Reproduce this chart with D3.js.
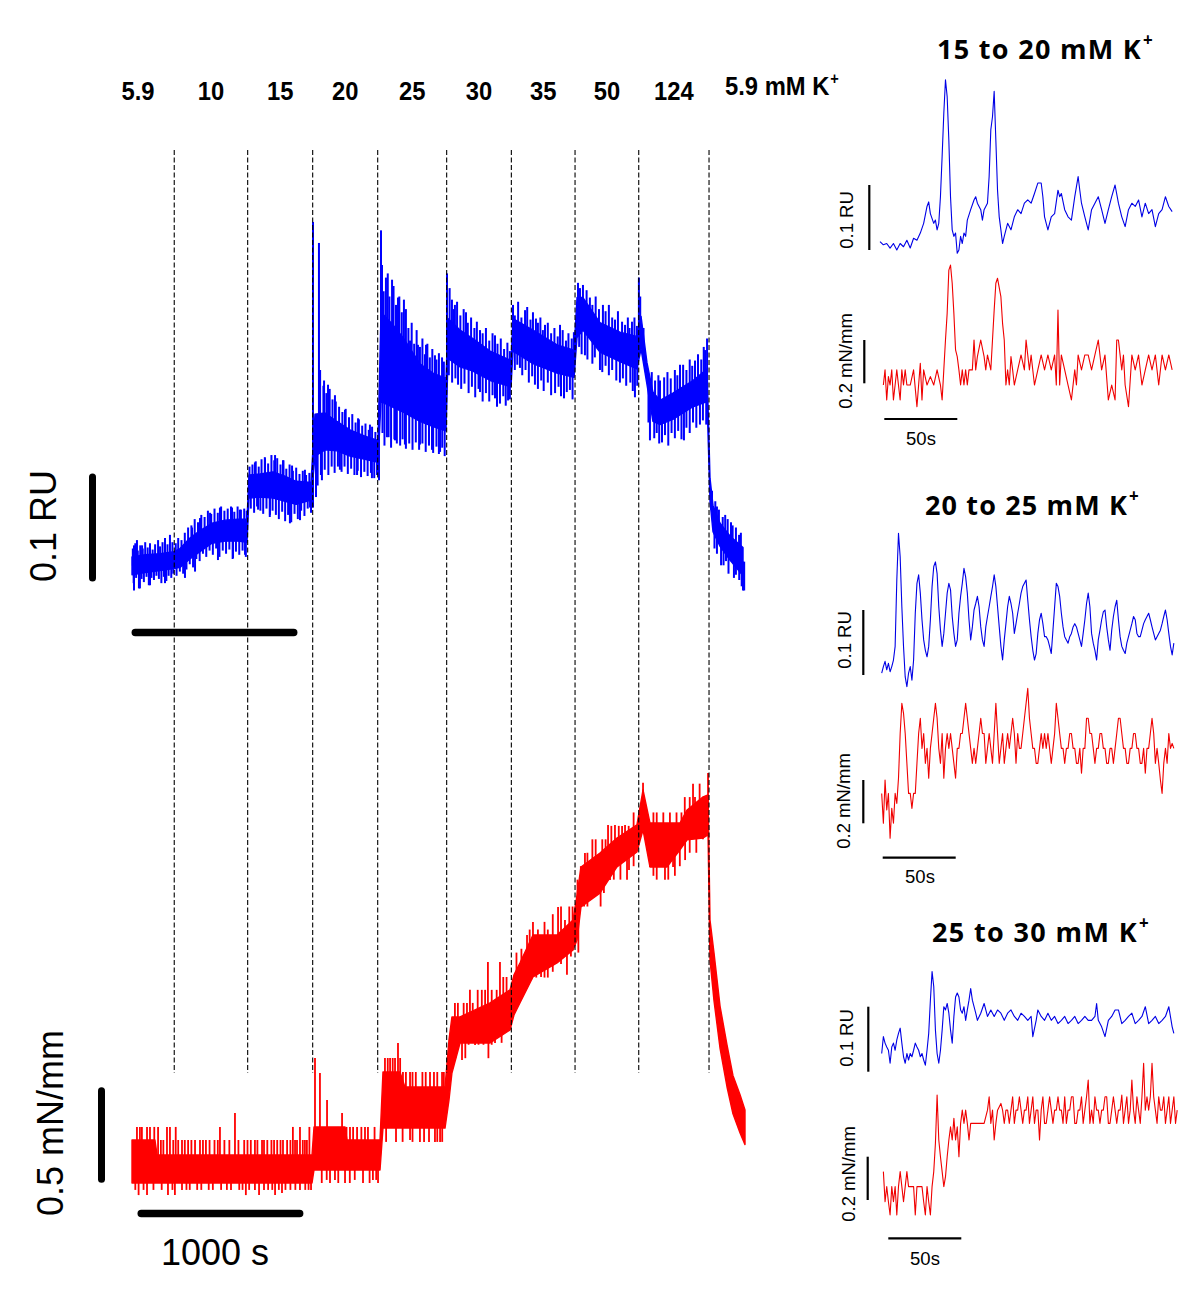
<!DOCTYPE html>
<html><head><meta charset="utf-8">
<script src="https://cdn.jsdelivr.net/npm/d3@7"></script>
<style>html,body{margin:0;padding:0;background:#fff}svg{display:block}</style>
</head><body>
<svg id="chart" width="1200" height="1299"></svg>
<script>
// ---------------- DATA ----------------
const concentrations = ["5.9","10","15","20","25","30","35","50","124","5.9 mM K"];
const changeTimes = [256,701,1095,1489,1907,2299,2685,3071,3497]; // s
const traceEnd = 3715; // s

// Ca2+ signal (mRU): dense core of the noisy trace
const blueT  = [0,79,170,255,291,351,412,485,564,642,697,709,776,855,927,994,1085,1109,1170,1242,1321,1412,1491,1509,1576,1642,1745,1824,1903,1915,1988,2066,2170,2297,2309,2430,2576,2679,2697,2733,2836,2957,3060,3085,3121,3157,3200,3278,3400,3485,3503,3521,3564,3624,3703];
const blueHi = [22,24,25,27,30,40,47,54,57,58,58,100,101,103,99,94,93,158,159,151,143,137,133,255,244,231,206,197,192,249,238,230,218,209,249,238,224,219,269,269,245,236,232,251,207,179,171,178,190,201,97,71,54,42,31];
const blueLo = [5,7,9,11,12,20,27,35,37,37,36,78,79,78,75,72,76,118,124,123,118,115,112,170,165,160,151,146,142,211,203,199,190,184,218,206,197,193,231,238,217,208,201,220,186,151,148,153,165,170,75,46,32,19,4];
// Ca2+ signal excursions [time s, mRU]
const blueSpikes = [
 [12,33],[30,38],[61,33],[109,35],[158,38],[200,40],[230,43],[12,-10],[48,-8],[109,-5],[200,-3],
 [5,30],[20,35],[35,28],[50,33],[65,30],[80,36],[95,31],[125,29],[140,34],[170,32],[185,36],[215,34],[245,36],
 [10,-3],[25,2],[42,-8],[58,1],[72,-2],[88,3],[102,-5],[118,2],[133,0],[148,4],[163,1],[178,-3],[193,3],[208,-1],[222,4],[238,2],[250,6],
 [364,50],[412,59],[473,64],[533,69],[606,69],[654,67],[321,2],[382,8],[521,19],[612,21],[685,24],
 [265,35],[280,40],[300,38],[320,45],[340,50],[360,52],[380,58],[400,55],[420,62],[440,60],[460,66],[480,63],[500,68],[520,64],[540,70],[560,66],[580,68],[600,70],[620,65],[640,70],[660,67],[680,68],[695,66],
 [270,4],[290,8],[310,6],[330,10],[350,15],[370,12],[390,20],[410,18],[430,25],[450,22],[470,28],[490,24],[510,30],[530,22],[550,28],[570,25],[590,29],[610,20],[630,27],[650,24],[670,28],[690,22],
 [745,112],[806,116],[867,119],[915,114],[970,109],[1048,105],[764,67],[836,62],[957,54],[1018,57],[1079,69],
 [712,108],[730,110],[750,113],[768,108],[785,115],[805,117],[825,111],[845,119],[862,114],[880,116],[900,110],[918,114],[935,106],[955,110],[975,104],[995,107],[1015,101],[1035,104],[1055,100],[1075,102],
 [720,68],[740,64],[758,70],[778,66],[795,63],[815,68],[835,60],[852,66],[872,62],[890,58],[910,65],[928,56],[946,62],[965,55],[985,63],[1005,58],[1025,66],[1045,61],[1065,68],[1085,64],
 [1097,341],[1133,321],[1164,190],[1188,186],[1230,176],[1291,162],[1370,154],[1442,148],[1097,69],[1115,79],[1151,95],[1260,105],[1364,100],[1454,97],[1497,95],
 [1140,200],[1160,185],[1178,178],[1198,182],[1215,172],[1235,170],[1255,165],[1275,160],[1295,163],[1315,155],[1335,158],[1355,150],[1375,153],[1395,147],[1415,149],[1435,143],[1455,146],[1475,141],
 [1125,90],[1145,100],[1168,105],[1190,100],[1210,108],[1228,102],[1248,108],[1270,103],[1288,108],[1308,101],[1328,106],[1348,100],[1368,104],[1388,98],[1408,103],[1428,99],[1448,102],[1468,97],[1485,100],
 [1509,333],[1539,288],[1576,286],[1612,269],[1648,267],[1685,228],[1733,224],[1782,224],[1836,214],[1879,212],[1545,136],[1594,133],[1654,129],[1745,129],[1818,124],[1867,122],
 [1515,300],[1525,275],[1550,292],[1560,270],[1585,280],[1600,262],[1620,270],[1635,255],[1660,258],[1675,240],[1695,245],[1710,225],[1725,238],[1745,222],[1760,230],[1775,215],[1790,225],[1805,212],[1820,220],[1845,210],[1860,216],[1890,208],
 [1518,140],[1530,128],[1555,136],[1570,126],[1590,134],[1605,130],[1625,128],[1640,134],[1660,125],[1680,130],[1700,124],[1720,131],[1740,124],[1760,130],[1780,122],[1800,128],[1825,121],[1845,127],[1860,120],[1880,126],[1895,118],
 [1909,292],[1939,267],[1957,262],[2024,255],[2109,238],[2200,233],[1976,186],[2109,179],[2200,173],[2212,165],[2279,171],
 [1925,278],[1948,258],[1970,265],[1990,252],[2010,258],[2035,245],[2055,250],[2075,240],[2090,246],[2125,235],[2145,240],[2165,228],[2185,235],[2215,225],[2235,230],[2255,220],[2275,226],[2290,218],
 [1920,195],[1940,188],[1960,192],[1995,182],[2015,187],[2040,178],[2060,184],[2080,174],[2100,182],[2125,170],[2145,178],[2165,170],[2185,176],[2230,168],[2250,175],[2265,166],[2290,172],
 [2309,262],[2382,257],[2448,249],[2503,243],[2594,243],[2351,202],[2442,186],[2564,178],[2618,173],[2654,181],
 [2320,252],[2340,265],[2360,250],[2395,260],[2415,248],[2430,255],[2460,245],[2475,250],[2490,238],[2520,245],[2540,235],[2560,240],[2580,232],[2610,238],[2630,228],[2645,235],[2665,230],[2678,236],
 [2320,200],[2335,205],[2365,195],[2385,200],[2405,188],[2425,194],[2460,182],[2480,190],[2495,180],[2520,188],[2540,176],[2585,184],[2600,175],[2635,179],[2670,172],
 [2703,283],[2733,281],[2775,269],[2854,262],[2927,248],[2988,243],[3030,246],[2745,214],[2836,200],[2957,188],[3048,174],
 [2715,278],[2755,276],[2790,262],[2810,270],[2830,258],[2870,256],[2890,262],[2910,250],[2945,256],[2970,246],[3005,250],[3015,240],[3045,250],[3060,242],
 [2710,222],[2725,215],[2760,210],[2790,206],[2805,212],[2850,198],[2870,204],[2890,195],[2910,200],[2935,190],[2975,192],[2995,185],[3020,188],[3035,180],[3062,185],
 [3072,288],[3200,190],[3321,205],[3412,209],[3473,219],[3139,133],[3212,131],[3345,133],[3442,148],
 [3080,270],[3100,240],[3150,198],[3170,190],[3190,195],[3225,193],[3245,198],[3265,192],[3290,200],[3305,195],[3340,205],[3360,200],[3380,210],[3395,204],[3430,215],[3450,210],[3465,222],[3485,230],
 [3130,150],[3165,135],[3180,140],[3195,130],[3230,138],[3250,128],[3270,140],[3290,135],[3310,142],[3330,134],[3360,145],[3380,140],[3400,150],[3420,145],[3460,152],[3480,148],
 [3509,67],[3557,67],[3630,55],[3679,43],[3570,14],[3648,2],[3703,-10],
 [3515,85],[3535,75],[3545,70],[3580,60],[3595,62],[3610,58],[3640,52],[3660,50],[3690,45],
 [3530,30],[3545,25],[3585,14],[3600,18],[3615,6],[3660,5],[3680,0],[3695,-6],[3710,-10]
];

// Tension (mN/mm): dense core of the noisy trace
const redT  = [0,139,152,1091,1103,1291,1303,1503,1521,1624,1654,1897,1921,1939,1988,2170,2291,2315,2351,2430,2576,2673,2697,2721,2836,2939,3060,3097,3139,3242,3321,3364,3461,3491,3503,3527,3564,3606,3642,3685,3715];
const redHi = [.224,.224,.146,.146,.292,.292,.224,.224,.578,.578,.5,.5,.745,.865,.865,.938,1.006,1.084,1.146,1.292,1.292,1.37,1.5,1.646,1.719,1.797,1.865,2.048,1.875,1.875,1.875,1.943,2.011,2.021,1.37,1.2,.92,.72,.56,.46,.38];
const redLo = [0,0,0,0,.068,.068,.068,.068,.286,.286,.286,.286,.432,.573,.729,.729,.797,.875,.938,1.073,1.146,1.214,1.266,1.438,1.51,1.646,1.724,1.839,1.646,1.646,1.735,1.787,1.797,1.813,1.161,.95,.70,.5,.36,.26,.2];
const redSpikes = [
 [30,.292],[48,.292],[91,.292],[109,.292],[158,.292],[212,.292],[230,.292],[303,.224],[382,.224],[412,.224],[448,.224],[533,.292],[624,.365],[745,.224],[788,.224],[861,.224],[915,.224],[988,.224],[1018,.292],[1048,.224],
 [15,.224],[60,.292],[75,.224],[120,.224],[135,.292],[175,.224],[190,.224],[250,.224],[265,.292],[280,.224],[320,.224],[340,.224],[360,.224],[430,.224],[470,.224],[500,.224],[520,.224],[560,.224],[590,.224],[645,.224],[680,.224],[700,.224],[720,.224],[760,.224],[800,.224],[820,.224],[845,.224],[880,.224],[900,.224],[940,.224],[960,.224],[975,.292],[1000,.224],[1035,.224],[1060,.224],[1075,.292],
 [91,-.063],[218,-.063],[303,-.036],[745,-.036],[867,-.063],[909,-.052],[1018,-.036],
 [20,-.036],[40,-.063],[70,-.036],[130,-.036],[180,-.036],[245,-.036],[260,-.063],[330,-.036],[350,-.036],[395,-.036],[420,-.036],[465,-.036],[490,-.036],[540,-.036],[575,-.036],[600,-.036],[650,-.036],[670,-.036],[690,-.063],[710,-.036],[770,-.063],[800,-.036],[825,-.036],[850,-.036],[890,-.036],[930,-.036],[960,-.036],[990,-.036],[1050,-.036],[1070,-.036],[1085,-.036],
 [1109,.651],[1139,.573],[1182,.432],[1273,.365],[1321,.292],[1364,.292],[1412,.292],[1200,0],[1230,.016],[1291,0],[1460,.016],[1491,0],
 [1250,.292],[1300,.292],[1340,.292],[1390,.292],[1430,.292],[1470,.292],[1150,0],[1180,.016],[1250,0],[1320,0],[1350,.016],[1400,0],[1440,0],[1480,.016],
 [1533,.651],[1564,.651],[1594,.651],[1612,.729],[1642,.578],[1685,.578],[1806,.578],[1879,.578],[1685,.224],[1745,.214],[1836,.214],[1867,.214],
 [1550,.651],[1580,.651],[1625,.651],[1660,.578],[1700,.578],[1720,.578],[1760,.578],[1780,.578],[1830,.578],[1850,.578],[1890,.578],[1540,.214],[1600,.214],[1640,.214],[1700,.214],[1770,.214],[1800,.214],[1850,.214],[1880,.214],
 [1957,.938],[2048,1.006],[2157,1.151],[2230,1.151],[2000,.641],[2079,.719],[2200,.729],
 [1975,.938],[2010,.938],[2030,.938],[2065,.938],[2095,1.006],[2120,1.006],[2140,1.006],[2180,1.006],[2210,1.006],[2250,1.073],[2270,1.073],[1960,.65],[2020,.65],[2040,.72],[2100,.72],[2130,.72],[2160,.65],[2180,.72],[2240,.73],[2260,.79],
 [2394,1.292],[2582,1.438],[2624,1.37],[2479,1.073],[2636,1.084],
 [2330,1.2],[2360,1.22],[2410,1.32],[2430,1.36],[2460,1.32],[2500,1.36],[2520,1.32],[2550,1.4],[2600,1.44],[2650,1.44],[2670,1.44],[2340,.93],[2370,1.0],[2420,1.06],[2450,1.07],[2500,1.07],[2520,1.07],[2550,1.1],[2600,1.14],[2660,1.18],
 [2745,1.719],[2885,1.865],[2927,1.865],[2988,1.865],[2818,1.51],[2897,1.578],[3012,1.63],
 [2700,1.58],[2720,1.65],[2760,1.72],[2790,1.79],[2810,1.79],[2850,1.79],[2870,1.79],[2905,1.86],[2950,1.86],[2970,1.86],[3010,1.86],[3040,1.93],[2705,1.2],[2740,1.44],[2760,1.44],[2800,1.51],[2840,1.44],[2860,1.51],[2920,1.58],[2960,1.58],[3000,1.58],[3040,1.65],
 [3097,2.084],[3412,2.011],[3491,2.136],[3139,1.646],[3200,1.646],[3279,1.646],[3352,1.682],
 [3160,1.93],[3180,1.93],[3220,1.93],[3260,1.93],[3300,1.93],[3330,1.93],[3350,2.01],[3380,2.01],[3400,2.08],[3440,2.08],[3470,2.01],[3160,1.6],[3180,1.58],[3230,1.58],[3250,1.58],[3290,1.6],[3320,1.65],[3380,1.72],[3420,1.72],[3460,1.79]
];

// Insets: sample period (s); traces as [sample index, value] (blue: mRU, red: mN/mm)
const samplePeriod = 1.15;
const insetTitles = ["15 to 20 mM K","20 to 25 mM K","25 to 30 mM K"];
const ins1Blue = [[0,13],[2,8],[4,10],[6,3],[8,10],[10,0],[12,10],[14,5],[16,15],[18,3],[20,18],[22,15],[24,26],[26,41],[28,67],[29,74],[30,56],[32,41],[33,46],[34,31],[35,41],[36,82],[37,144],[38,210],[39,262],[40,236],[41,169],[42,82],[43,31],[44,21],[45,26],[46,-5],[47,0],[48,21],[49,10],[50,26],[51,21],[52,46],[54,62],[56,77],[57,82],[58,72],[60,62],[61,46],[62,62],[64,72],[65,113],[66,185],[67,205],[68,244],[69,169],[70,92],[71,51],[72,31],[73,10],[74,21],[76,41],[78,31],[80,51],[82,62],[84,56],[86,72],[88,77],[90,72],[92,87],[94,103],[96,103],[97,82],[98,51],[100,31],[102,51],[104,56],[106,92],[107,82],[108,87],[110,62],[112,51],[114,46],[116,82],[118,113],[119,92],[120,72],[122,51],[124,31],[126,62],[128,72],[130,82],[132,62],[134,41],[136,62],[138,82],[140,100],[142,72],[144,51],[146,36],[148,62],[150,72],[152,67],[154,77],[156,51],[158,72],[160,56],[162,62],[164,36],[166,56],[168,62],[170,82],[172,67],[174,59]];
const ins1Red = [[2,-.008],[3,.062],[4,-.077],[5,.031],[6,-.008],[7,.062],[8,-.077],[9,-.008],[10,.062],[11,-.008],[12,-.077],[13,.062],[14,-.008],[15,.062],[16,-.008],[18,-.008],[20,.062],[22,-.108],[23,-.008],[24,.092],[25,-.077],[26,.062],[28,-.008],[30,.031],[32,-.008],[34,.062],[36,-.008],[37,-.077],[38,.062],[39,.2],[40,.323],[41,.523],[42,.546],[43,.462],[44,.323],[45,.154],[46,.123],[47,.062],[48,-.008],[49,.062],[50,-.008],[51,.062],[52,-.008],[53,.062],[55,.062],[56,.2],[57,.062],[58,.123],[60,.2],[62,.123],[63,.062],[64,.131],[66,.062],[67,.2],[68,.338],[69,.462],[70,.485],[72,.4],[73,.277],[74,.2],[75,-.008],[76,.062],[77,-.008],[78,.123],[79,.062],[80,-.008],[82,.062],[84,.131],[86,.062],[87,.2],[88,.131],[89,.062],[90,.131],[92,-.008],[94,.062],[96,.131],[98,.062],[100,.131],[102,.062],[104,.131],[105,-.008],[106,.338],[107,-.008],[108,.131],[110,.062],[112,-.008],[114,-.077],[116,.062],[117,-.008],[118,.131],[120,.062],[122,.131],[124,.131],[126,.062],[128,.131],[130,.2],[132,.062],[134,.131],[136,-.077],[138,-.008],[140,-.077],[141,.2],[142,.2],[144,.062],[145,.131],[146,-.008],[148,-.108],[150,.131],[152,.062],[154,.131],[156,-.008],[158,.062],[160,.131],[162,.062],[164,.131],[166,-.008],[168,.131],[170,.062],[172,.131],[174,.062]];
const ins2Blue = [3,13,21,8,18,5,13,23,44,146,218,182,105,44,-3,-18,3,13,-8,23,95,141,154,126,85,54,38,28,44,85,136,167,174,156,105,69,44,64,95,126,141,131,90,64,44,54,95,121,141,164,151,126,85,54,74,100,110,121,105,74,54,44,74,90,105,121,136,154,136,105,74,44,23,54,79,105,121,110,95,64,79,95,110,126,136,141,146,115,85,59,38,23,33,64,85,95,79,59,59,54,44,33,69,105,141,136,121,95,74,59,54,49,59,64,74,79,74,64,54,44,64,85,110,126,105,64,49,38,23,54,69,85,97,100,74,54,38,69,90,105,115,85,59,44,38,33,49,59,69,79,90,85,64,59,59,69,79,85,90,95,85,74,64,54,59,64,69,79,90,100,85,64,44,31,49];
const ins2Red = [.138,0,.2,.062,.138,-.069,.069,0,.138,.092,.208,.415,.554,.508,.415,.277,.138,.138,.069,.138,.138,.277,.415,.485,.346,.415,.277,.346,.208,.346,.415,.485,.554,.485,.346,.277,.415,.208,.346,.415,.346,.415,.346,.277,.208,.346,.346,.415,.415,.485,.554,.485,.415,.346,.277,.346,.277,.346,.415,.485,.415,.415,.277,.346,.415,.346,.277,.415,.554,.415,.277,.346,.415,.277,.346,.415,.346,.415,.485,.415,.277,.415,.346,.346,.415,.485,.554,.623,.485,.415,.346,.346,.277,.277,.346,.415,.346,.415,.346,.415,.346,.277,.346,.415,.554,.485,.415,.346,.346,.277,.346,.346,.415,.415,.346,.346,.277,.277,.346,.231,.346,.346,.485,.485,.415,.415,.346,.277,.346,.346,.415,.415,.346,.346,.277,.277,.346,.346,.277,.346,.415,.485,.485,.415,.346,.346,.277,.277,.346,.346,.415,.415,.346,.346,.277,.277,.346,.231,.346,.346,.415,.485,.415,.277,.346,.277,.2,.138,.277,.346,.277,.415,.346,.369,.346];
const ins3Blue = [[0,28],[1,54],[2,44],[3,38],[4,33],[5,13],[6,38],[7,44],[8,33],[9,49],[10,59],[11,67],[12,44],[13,23],[14,13],[15,28],[16,18],[17,28],[18,23],[19,33],[20,44],[21,38],[22,33],[23,23],[24,28],[25,18],[26,10],[27,33],[28,59],[29,110],[30,154],[31,131],[32,64],[33,28],[34,13],[35,33],[36,64],[37,100],[38,95],[39,105],[40,90],[41,64],[42,44],[43,85],[44,115],[45,121],[46,115],[47,95],[48,90],[49,100],[50,79],[51,95],[52,110],[53,128],[54,110],[55,100],[56,90],[57,79],[59,90],[61,105],[63,85],[65,95],[67,85],[69,95],[71,90],[73,79],[75,90],[77,95],[79,85],[81,79],[83,90],[85,85],[87,79],[89,85],[90,54],[92,79],[93,95],[95,85],[97,79],[99,90],[101,79],[103,85],[105,74],[107,79],[109,85],[111,74],[113,79],[115,85],[117,74],[119,79],[121,85],[123,79],[125,79],[127,85],[128,105],[129,79],[131,69],[133,54],[135,79],[137,85],[139,95],[141,95],[143,74],[145,79],[147,85],[149,90],[151,74],[153,79],[155,85],[157,100],[159,74],[161,79],[163,85],[165,74],[167,79],[169,85],[171,100],[173,69],[174,59]];
const ins3Red = [[1,.131],[2,-.008],[3,.062],[4,-.008],[5,-.069],[6,.062],[7,-.008],[8,.062],[9,-.069],[10,.062],[11,.131],[12,.062],[13,-.008],[14,.062],[15,.131],[16,.062],[17,.062],[18,.062],[19,.062],[20,-.069],[21,.062],[22,.062],[23,.062],[24,.062],[25,-.008],[26,-.069],[27,.062],[28,-.008],[29,-.069],[30,.062],[31,.131],[32,.262],[33,.485],[34,.277],[35,.2],[36,.131],[37,.062],[38,.108],[39,.2],[40,.277],[41,.338],[42,.277],[43,.377],[44,.277],[45,.338],[46,.2],[47,.354],[48,.415],[49,.354],[50,.415],[51,.354],[52,.277],[53,.354],[55,.354],[57,.354],[59,.354],[61,.354],[63,.415],[64,.477],[65,.354],[66,.415],[67,.277],[68,.354],[69,.415],[71,.446],[72,.415],[73,.354],[74,.415],[75,.415],[76,.354],[77,.415],[78,.477],[79,.354],[80,.415],[81,.415],[82,.477],[83,.415],[84,.354],[85,.415],[86,.415],[87,.477],[88,.354],[89,.415],[90,.477],[91,.354],[92,.415],[93,.415],[94,.277],[95,.415],[96,.477],[97,.354],[98,.354],[99,.415],[100,.477],[101,.415],[102,.354],[103,.415],[104,.415],[105,.477],[106,.415],[107,.415],[108,.354],[109,.477],[110,.354],[111,.415],[112,.415],[113,.477],[114,.477],[115,.354],[116,.354],[117,.415],[118,.415],[119,.477],[120,.354],[121,.415],[122,.477],[123,.554],[124,.354],[125,.415],[126,.354],[127,.477],[128,.415],[129,.415],[130,.354],[131,.415],[132,.415],[133,.477],[134,.477],[135,.354],[136,.354],[137,.415],[138,.477],[139,.415],[140,.354],[141,.415],[142,.415],[143,.485],[144,.354],[145,.415],[146,.477],[147,.354],[148,.415],[149,.554],[150,.415],[151,.354],[152,.477],[153,.415],[154,.354],[155,.477],[156,.631],[157,.415],[158,.477],[159,.415],[160,.477],[161,.631],[162,.477],[163,.415],[164,.354],[165,.477],[166,.415],[167,.415],[168,.477],[169,.354],[170,.415],[171,.477],[172,.354],[173,.415],[174,.477],[175,.354],[176,.415]];

// ---------------- DRAWING ----------------
const svg = d3.select("#chart");
const BLUE = "#0000ff", RED = "#ff0000";
const ARIAL = "'Liberation Sans', Arial, Helvetica, sans-serif";
const TITLEF = "'Open Sans', 'Noto Sans', sans-serif";

const x  = d3.scaleLinear().domain([0, traceEnd]).range([132, 745]);
const yB = d3.scaleLinear().domain([0, 100]).range([580, 475]);   // mRU
const yR = d3.scaleLinear().domain([0, 0.5]).range([1183, 1087]); // mN/mm

const main = svg.append("g");

function drawBand(g, T, Hi, Lo, sx, sy, color) {
  const pts = T.map((t, i) => ({t, hi: Hi[i], lo: Lo[i]}));
  g.append("path").datum(pts)
    .attr("d", d3.area().x(d => sx(d.t)).y0(d => sy(d.lo)).y1(d => sy(d.hi)))
    .attr("fill", color).attr("stroke", color).attr("stroke-width", 1.4).attr("stroke-linejoin", "round");
}
function drawSpikes(g, spk, T, Hi, Lo, sx, sy, color, w) {
  const mid = t => {
    const i = Math.max(1, Math.min(T.length - 1, d3.bisectRight(T, t)));
    const f = Math.max(0, Math.min(1, (t - T[i-1]) / (T[i] - T[i-1])));
    return ((Hi[i-1] + Lo[i-1]) * (1 - f) + (Hi[i] + Lo[i]) * f) / 2;
  };
  g.selectAll(null).data(spk).join("line")
    .attr("x1", d => sx(d[0])).attr("x2", d => sx(d[0]))
    .attr("y1", d => sy(mid(d[0]))).attr("y2", d => sy(d[1]))
    .attr("stroke", color).attr("stroke-width", w);
}

drawBand(main, blueT, blueHi, blueLo, x, yB, BLUE);
drawSpikes(main, blueSpikes, blueT, blueHi, blueLo, x, yB, BLUE, 2);
drawBand(main, redT, redHi, redLo, x, yR, RED);
drawSpikes(main, redSpikes, redT, redHi, redLo, x, yR, RED, 1.8);

// dashed solution-change lines
main.selectAll(null).data(changeTimes).join("line")
  .attr("x1", d => x(d)).attr("x2", d => x(d)).attr("y1", 150).attr("y2", 1073)
  .attr("stroke", "#000").attr("stroke-width", 1.1).attr("stroke-dasharray", "5,2.5");

// concentration labels
concentrations.forEach((c, i) => {
  if (i < concentrations.length - 1) {
    const cx = i === 0 ? x(0) + 6 : (x(changeTimes[i-1]) + x(changeTimes[i])) / 2;
    svg.append("text").attr("transform", `translate(${cx},100) scale(0.95,1.06)`).attr("text-anchor", "middle")
      .attr("font-family", ARIAL).attr("font-weight", "bold").attr("font-size", 25).text(c);
  } else {
    const t = svg.append("text").attr("transform", `translate(${x(changeTimes[8]) + 16},95) scale(0.97,1.04)`)
      .attr("font-family", ARIAL).attr("font-weight", "bold").attr("font-size", 24.5);
    t.append("tspan").text(c);
    t.append("tspan").attr("font-size", 15).attr("dy", -11).attr("dx", 1).text("+");
  }
});

// main scale bars
const bar = (x1, y1, x2, y2, w) => svg.append("line").attr("x1", x1).attr("y1", y1).attr("x2", x2).attr("y2", y2)
  .attr("stroke", "#000").attr("stroke-width", w).attr("stroke-linecap", "round");
bar(92.5, yB(2), 92.5, yB(98), 7);
bar(x(20), 632.5, x(980), 632.5, 7.5);
bar(101.5, yR(0.02), 101.5, yR(0.48), 7);
bar(x(56), 1213.5, x(1016), 1213.5, 7.5);

svg.append("text").attr("transform", "translate(56,526) rotate(-90)").attr("text-anchor", "middle")
  .attr("font-family", ARIAL).attr("font-size", 36).text("0.1 RU");
svg.append("text").attr("transform", "translate(63,1123) rotate(-90)").attr("text-anchor", "middle")
  .attr("font-family", ARIAL).attr("font-size", 36).text("0.5 mN/mm");
svg.append("text").attr("x", 215).attr("y", 1265).attr("text-anchor", "middle")
  .attr("font-family", ARIAL).attr("font-size", 36).text("1000 s");

// ---------------- INSETS ----------------
const insets = [
  {title: insetTitles[0], tx: 937, ty: 59, tw: 205, x0: 880, blue: ins1Blue, red: ins1Red,
   bRef: 250, rRef: 383.3, bBarX: 869.3, rBarX: 864.3, ruLab: [853, 220], mnLab: [852, 361],
   hBar: [884.3, 419], hLab: [921, 445]},
  {title: insetTitles[1], tx: 925, ty: 515, tw: 203, x0: 881.7, blue: ins2Blue.map((v, i) => [i, v]), red: ins2Red.map((v, i) => [i, v]),
   bRef: 675, rRef: 823.3, bBarX: 863.3, rBarX: 863.3, ruLab: [851, 640], mnLab: [850, 801],
   hBar: [882.7, 857.7], hLab: [920, 883]},
  {title: insetTitles[2], tx: 932, ty: 942, tw: 206, x0: 881.7, blue: ins3Blue, red: ins3Red,
   bRef: 1071.7, rRef: 1200, bBarX: 868.3, rBarX: 867.7, ruLab: [853, 1038], mnLab: [855, 1174],
   hBar: [888.3, 1238.3], hLab: [925, 1265]}
];

insets.forEach(ins => {
  const g = svg.append("g");
  const sx = d3.scaleLinear().domain([0, 50]).range([ins.x0, ins.x0 + 73]);
  const sb = d3.scaleLinear().domain([0, 100]).range([ins.bRef, ins.bRef - 65]);
  const sr = d3.scaleLinear().domain([0, 0.2]).range([ins.rRef, ins.rRef - 43.3]);

  const t = g.append("text").attr("x", ins.tx).attr("y", ins.ty)
    .attr("font-family", TITLEF).attr("font-weight", "bold").attr("font-size", 27);
  const mainT = t.append("tspan").text(ins.title);
  const w = mainT.node().getComputedTextLength();
  t.attr("letter-spacing", ((ins.tw - w) / ins.title.length).toFixed(2));
  t.append("tspan").attr("font-size", 17).attr("dy", -13).attr("dx", 1).attr("letter-spacing", 0).text("+");

  g.append("path").datum(ins.blue)
    .attr("d", d3.line().x(d => sx(d[0] * samplePeriod)).y(d => sb(d[1])))
    .attr("fill", "none").attr("stroke", "#0000e6").attr("stroke-width", 1.1).attr("stroke-linejoin", "round");
  g.append("path").datum(ins.red)
    .attr("d", d3.line().x(d => sx(d[0] * samplePeriod)).y(d => sr(d[1])))
    .attr("fill", "none").attr("stroke", "#f00000").attr("stroke-width", 1.1).attr("stroke-linejoin", "round");

  const ln = (x1, y1, x2, y2) => g.append("line").attr("x1", x1).attr("y1", y1).attr("x2", x2).attr("y2", y2)
    .attr("stroke", "#000").attr("stroke-width", 2.2);
  ln(ins.bBarX, sb(0), ins.bBarX, sb(100));
  ln(ins.rBarX, sr(0), ins.rBarX, sr(0.2));
  ln(ins.hBar[0], ins.hBar[1], ins.hBar[0] + (sx(50) - sx(0)), ins.hBar[1]);

  g.append("text").attr("transform", `translate(${ins.ruLab[0]},${ins.ruLab[1]}) rotate(-90)`).attr("text-anchor", "middle")
    .attr("font-family", ARIAL).attr("font-size", 18.5).text("0.1 RU");
  g.append("text").attr("transform", `translate(${ins.mnLab[0]},${ins.mnLab[1]}) rotate(-90)`).attr("text-anchor", "middle")
    .attr("font-family", ARIAL).attr("font-size", 18.5).text("0.2 mN/mm");
  g.append("text").attr("x", ins.hLab[0]).attr("y", ins.hLab[1]).attr("text-anchor", "middle")
    .attr("font-family", ARIAL).attr("font-size", 18.5).text("50s");
});
</script>
</body></html>
